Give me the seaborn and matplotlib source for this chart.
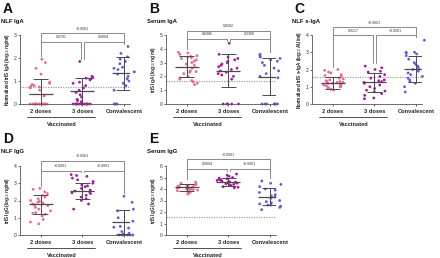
import warnings
import matplotlib
matplotlib.use("Agg")
import matplotlib.pyplot as plt
import matplotlib.transforms as mtransforms
import numpy as np
import pandas as pd
import seaborn as sns

warnings.filterwarnings("ignore")
np.random.seed(3)

groups = ["2 doses", "3 doses", "Convalescent"]
palette = ["#f06496", "#a8189f", "#5b5be0"]

# A - NLF IgA
nlf_iga_2d = [1.95, 1.8, 1.55, 1.3, 0.95, 0.9, 0.85, 0.8, 0.77, 0.74, 0.7, 0.6, 0.35,
              0, 0, 0, 0, 0, 0, 0, 0, 0, 0, 0, 0, 0, 0, 0]
nlf_iga_3d = [1.85, 1.2, 1.15, 1.12, 1.1, 1.05, 0.95, 0.9, 0.8, 0.7, 0.6, 0.5, 0.4, 0.3,
              0.2, 0.15, 0.1, 0, 0, 0, 0, 0, 0, 0, 0, 0, 0, 0, 0, 0, 0]
nlf_iga_conv = [2.5, 2.2, 2.05, 1.95, 1.85, 1.75, 1.6, 1.55, 1.5, 1.4, 1.3, 1.2, 1.1,
                1.0, 0.9, 0.8, 0.6, 0, 0, 0, 0]
nlf_iga_mean = [0.45, 0.55, 1.33]
nlf_iga_sd = [0.65, 0.6, 0.72]
nlf_iga_p = ["0.0701", "0.0004", "<0.0001"]

# B - Serum IgA
ser_iga_2d = [3.75, 3.7, 3.6, 3.5, 3.45, 3.4, 3.35, 3.3, 3.2, 3.1, 3.0, 2.9, 2.8, 2.6,
              2.4, 2.35, 2.3, 2.2, 2.0, 1.9, 1.8, 1.7, 1.6, 1.5, 1.4]
ser_iga_3d = [4.4, 3.6, 3.4, 3.3, 3.2, 3.1, 3.0, 2.9, 2.8, 2.7, 2.6, 2.5, 2.4, 2.3, 2.2,
              2.1, 2.0, 1.8, 0, 0, 0, 0, 0]
ser_iga_conv = [3.6, 3.5, 3.4, 3.3, 3.2, 3.1, 3.0, 2.8, 2.6, 2.4, 2.2, 2.0, 1.9,
                0, 0, 0, 0, 0, 0, 0]
ser_iga_mean = [2.7, 2.42, 1.98]
ser_iga_sd = [0.75, 1.18, 1.35]
ser_iga_p = ["0.6986", "0.3368", "0.0582"]

# C - NLF s-IgA
nlf_siga_2d = [2.0, 1.95, 1.85, 1.8, 1.7, 1.65, 1.6, 1.5, 1.45, 1.4, 1.35, 1.3, 1.3,
               1.25, 1.25, 1.2, 1.2, 1.15, 1.1, 1.1, 1.05, 1.0, 1.0, 0.95, 0.9, 0.85, 0.8]
nlf_siga_3d = [2.2, 2.1, 2.0, 1.9, 1.85, 1.7, 1.6, 1.5, 1.4, 1.35, 1.3, 1.25, 1.2, 1.1,
               1.0, 0.9, 0.8, 0.75, 0.7, 0.6, 0.5, 0.35, 0.3]
nlf_siga_conv = [3.7, 3.0, 3.0, 2.95, 2.9, 2.8, 2.6, 2.4, 2.3, 2.2, 2.1, 2.0, 1.9, 1.8,
                 1.7, 1.6, 1.5, 1.4, 1.3, 1.2, 1.0, 0.7]
nlf_siga_mean = [1.2, 1.26, 2.03]
nlf_siga_sd = [0.34, 0.55, 0.78]
nlf_siga_p = ["0.9217", "<0.0001", "<0.0001"]

# D - NLF IgG
nlf_igg_2d = [2.7, 2.65, 2.5, 2.4, 2.3, 2.2, 2.1, 2.0, 1.95, 1.9, 1.85, 1.8, 1.75, 1.7,
              1.6, 1.5, 1.4, 1.3, 1.25, 1.2, 1.1, 0.9, 0.75, 0.65]
nlf_igg_3d = [3.5, 3.45, 3.4, 3.3, 3.2, 3.1, 3.0, 2.9, 2.85, 2.8, 2.7, 2.6, 2.55, 2.5,
              2.45, 2.4, 2.3, 2.2, 2.1, 2.0, 1.8, 1.5]
nlf_igg_conv = [2.25, 1.9, 1.5, 1.4, 1.0, 0.8, 0.5, 0.45, 0.4, 0.2, 0.1, 0.05,
                0, 0, 0, 0, 0, 0]
nlf_igg_mean = [1.77, 2.56, 0.75]
nlf_igg_sd = [0.54, 0.48, 0.71]
nlf_igg_p = ["<0.0001", "<0.0001", "<0.0001"]

# E - Serum IgG
ser_igg_2d = [4.6, 4.5, 4.4, 4.35, 4.3, 4.3, 4.25, 4.2, 4.2, 4.15, 4.1, 4.1, 4.05, 4.0,
              4.0, 3.95, 3.9, 3.85, 3.8, 3.75, 3.7, 3.6, 3.55]
ser_igg_3d = [5.3, 5.2, 5.1, 5.0, 4.95, 4.9, 4.85, 4.8, 4.75, 4.7, 4.7, 4.65, 4.6, 4.6,
              4.55, 4.5, 4.45, 4.4, 4.35, 4.3, 4.2, 4.15, 4.1]
ser_igg_conv = [4.7, 4.5, 4.4, 4.2, 4.0, 3.9, 3.7, 3.5, 3.4, 3.3, 3.2, 3.0, 2.9, 2.8,
                2.7, 2.6, 2.6, 2.5, 2.4, 2.2]
ser_igg_mean = [4.14, 4.64, 3.34]
ser_igg_sd = [0.3, 0.34, 0.74]
ser_igg_p = ["0.0004", "<0.0001", "<0.0001"]

sns.set_style("ticks")
plt.rcParams["font.family"] = ["Liberation Sans", "DejaVu Sans"]
plt.rcParams["mathtext.fontset"] = "custom"
plt.rcParams["mathtext.rm"] = "Liberation Sans"
plt.rcParams["mathtext.it"] = "Liberation Sans:italic"
plt.rcParams["mathtext.bf"] = "Liberation Sans:bold"

W, H = 440, 258
fig = plt.figure(figsize=(W / 100, H / 100), dpi=100)

panels = [
    dict(letter="A", title="NLF IgA", ylabel="Normalized trIS IgA (log$_{10}$ ng/ml)",
         vals=[nlf_iga_2d, nlf_iga_3d, nlf_iga_conv], mean=nlf_iga_mean, sd=nlf_iga_sd,
         p=nlf_iga_p, ymax=3, cutoff=0.75, br=(2.7, 3.08), px=(20, 35), lp=(3, 2)),
    dict(letter="B", title="Serum IgA", ylabel="trIS IgA (log$_{10}$ ng/ml)",
         vals=[ser_iga_2d, ser_iga_3d, ser_iga_conv], mean=ser_iga_mean, sd=ser_iga_sd,
         p=ser_iga_p, ymax=5, cutoff=1.65, br=(4.73, 5.31), px=(166, 35), lp=(149, 2)),
    dict(letter="C", title="NLF s-IgA", ylabel="Normalized trIS s-IgA (log$_{10}$ AU/ml)",
         vals=[nlf_siga_2d, nlf_siga_3d, nlf_siga_conv], mean=nlf_siga_mean, sd=nlf_siga_sd,
         p=nlf_siga_p, ymax=4, cutoff=1.55, br=(4.0, 4.46), px=(312, 35), lp=(294, 2)),
    dict(letter="D", title="NLF IgG", ylabel="trIS IgG (log$_{10}$ ng/ml)",
         vals=[nlf_igg_2d, nlf_igg_3d, nlf_igg_conv], mean=nlf_igg_mean, sd=nlf_igg_sd,
         p=nlf_igg_p, ymax=4, cutoff=None, br=(3.72, 4.3), px=(20, 166), lp=(3, 132)),
    dict(letter="E", title="Serum IgG", ylabel="trIS IgG (log$_{10}$ ng/ml)",
         vals=[ser_igg_2d, ser_igg_3d, ser_igg_conv], mean=ser_igg_mean, sd=ser_igg_sd,
         p=ser_igg_p, ymax=6, cutoff=1.57, br=(5.75, 6.57), px=(166, 166), lp=(149, 132)),
]

line_c = "#4a4a4a"
brk_c = "#8a8a8a"

for pn in panels:
    x0, y0 = pn["px"]
    ax = fig.add_axes([x0 / W, 1 - (y0 + 69) / H, 110 / W, 69 / H])
    ymax = pn["ymax"]

    df = pd.DataFrame({
        "group": [g for g, v in zip(groups, pn["vals"]) for _ in v],
        "value": [x for v in pn["vals"] for x in v],
    })
    sns.stripplot(data=df, x="group", y="value", hue="group", order=groups,
                  hue_order=groups, palette=palette, size=2.0, linewidth=0,
                  jitter=0.27, legend=False, ax=ax, zorder=2)
    for coll in ax.collections:
        coll.set_clip_on(False)
    ax.set_xlim(-0.5, 2.15)
    ax.set_ylim(0, ymax)

    if pn["cutoff"] is not None:
        ax.axhline(pn["cutoff"], color="#a0a0a0", ls=(0, (1, 1)), lw=0.9, zorder=1)

    # mean +/- SD
    for i, (m, s) in enumerate(zip(pn["mean"], pn["sd"])):
        lo = max(m - s, 0)
        ax.hlines(m, i - 0.29, i + 0.29, color=line_c, lw=0.9, zorder=4)
        ax.vlines(i, lo, m + s, color=line_c, lw=0.7, zorder=4)
        ax.hlines(m + s, i - 0.18, i + 0.18, color=line_c, lw=0.7, zorder=4)
        if m - s > 0:
            ax.hlines(m - s, i - 0.18, i + 0.18, color=line_c, lw=0.7, zorder=4)

    # significance brackets
    gap = 0.04 * ymax
    tops = [max(v) + gap for v in pn["vals"]]
    low, high = pn["br"]
    pairs = [(0, 0.0, 1, -0.03, low), (1, 0.03, 2, 0.0, low), (0, 0.0, 2, 0.0, high)]
    for (a, da, b, db, h), txt in zip(pairs, pn["p"]):
        xa, xb = a + da, b + db
        ax.plot([xa, xa, xb, xb], [tops[a], h, h, tops[b]], color=brk_c, lw=0.7,
                clip_on=False, zorder=3)
        ax.text((xa + xb) / 2, h + 0.035 * ymax, txt, ha="center", va="bottom",
                fontsize=2.6, color="#333333")

    ax.set_yticks(range(0, ymax + 1))
    ax.set_xticks(range(3))
    ax.set_xticklabels(groups, fontsize=4.1, fontweight="bold", color="#222222")
    ax.tick_params(axis="y", labelsize=3.6, length=1.6, width=0.5, pad=1,
                   colors="#333333")
    ax.tick_params(axis="x", length=1.4, width=0.5, pad=2.5)
    ax.set_xlabel("")
    ax.set_ylabel(pn["ylabel"], fontsize=3.3, fontweight="bold", color="#222222")
    ax.yaxis.set_label_coords(-0.075, 0.5)
    for sp in ["top", "right"]:
        ax.spines[sp].set_visible(False)
    for sp in ["left", "bottom"]:
        ax.spines[sp].set_linewidth(0.6)
        ax.spines[sp].set_color("#555555")

    # "Vaccinated" group line
    trans = mtransforms.blended_transform_factory(ax.transData, ax.transAxes)
    ax.plot([-0.32, 1.3], [-0.19, -0.19], color="#333333", lw=0.6, transform=trans,
            clip_on=False)
    ax.text(0.5, -0.30, "Vaccinated", transform=trans, ha="center", va="center",
            fontsize=4.1, fontweight="bold", color="#222222")

    lx, ly = pn["lp"]
    fig.text(lx / W, 1 - ly / H, pn["letter"], fontsize=10, fontweight="bold",
             ha="left", va="top", color="#111111")
    fig.text((lx - 2) / W, 1 - (ly + 20) / H, pn["title"], fontsize=4.3,
             fontweight="bold", ha="left", va="center", color="#111111")

fig.savefig("out.png", dpi=100)
